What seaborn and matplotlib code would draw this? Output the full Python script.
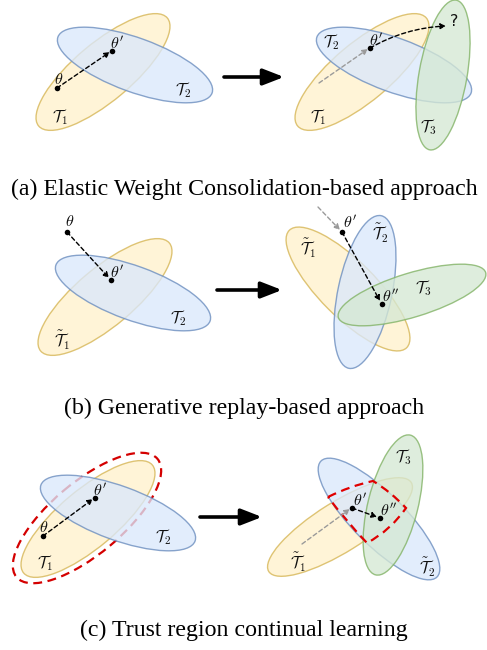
import numpy as np
import pandas as pd
import matplotlib
matplotlib.use("Agg")
import matplotlib.pyplot as plt
from matplotlib.patches import Ellipse, FancyArrowPatch, PathPatch
from matplotlib.path import Path
import seaborn as sns

# task colours (draw.io style): fill, edge
COLORS = {
    "yellow": ("#fff2cc", "#d6b656"),
    "blue": ("#dae8fc", "#6c8ebf"),
    "green": ("#d5e8d4", "#82b366"),
}

# ellipses: colour, centre x, centre y, width, height, angle (deg, ccw on screen)
ell_color = ["yellow", "blue",
             "yellow", "blue", "green",
             "yellow", "blue",
             "yellow", "blue", "green",
             "yellow", "blue",
             "yellow", "blue", "green"]
ell_x = [103, 135, 362, 394, 443, 105, 133, 348, 365, 412, 88, 118, 340, 379, 393]
ell_y = [72, 65, 72, 65, 75, 297, 293, 289, 292, 295, 519, 513, 527, 519, 505]
ell_w = [168, 164, 168, 164, 152, 168, 164, 166, 156, 154, 168, 164, 168, 164, 144]
ell_h = [58, 54, 58, 54, 48, 58, 54, 56, 54, 44, 58, 54, 50, 52, 50]
ell_ang = [40, -20, 40, -20, 80, 40, -20, -45, 78, 17, 40, -20, 32, -45, 76]
# draw order inside a panel (later = on top)
ell_layer = [0, 2, 0, 1, 2, 0, 1, 0, 1, 2, 0, 2, 0, 1, 2]

# trust region (c, left): dashed ellipse
tr_x, tr_y, tr_w, tr_h, tr_ang = 87, 518, 184, 72, 40
# trust region (c, right): corners and edge control points
tr_corners = [(328, 497), (373, 481), (406, 508), (367, 543)]
tr_ctrl = [(350, 486), (391, 492), (391, 530), (346, 521)]

# parameter points
pt_x = [57, 112, 370, 67, 111, 342, 382, 43, 95, 352, 380]
pt_y = [88, 51, 48, 232, 280, 232, 304, 536, 498, 508, 518]

# dashed arrows: start, end, colour, curvature
arr_start = [(57, 88), (319, 83), (370, 48), (67, 232), (318, 207), (342, 232), (43, 536), (302, 544), (352, 508)]
arr_end = [(110, 52), (368, 49), (446, 26), (109, 278), (340, 230), (380, 301), (93, 499), (350, 509), (377, 517)]
arr_col = ["black", "gray", "black", "black", "gray", "black", "black", "gray", "black"]
arr_rad = [0, 0, -0.12, 0, 0, 0, 0, 0, 0]

# big transition arrows (y, x0, x1)
big_y = [77, 290, 517]
big_x0 = [224, 217, 200]
big_x1 = [284, 282, 262]

# labels
lab_text = [r"$\theta$", r"$\theta'$", r"$\mathcal{T}_1$", r"$\mathcal{T}_2$",
            r"$\theta'$", "?", r"$\mathcal{T}_2$", r"$\mathcal{T}_1$", r"$\mathcal{T}_3$",
            r"$\theta$", r"$\theta'$", r"$\tilde{\mathcal{T}}_1$", r"$\mathcal{T}_2$",
            r"$\theta'$", r"$\theta''$", r"$\tilde{\mathcal{T}}_1$", r"$\tilde{\mathcal{T}}_2$", r"$\mathcal{T}_3$",
            r"$\theta$", r"$\theta'$", r"$\mathcal{T}_1$", r"$\mathcal{T}_2$",
            r"$\theta'$", r"$\theta''$", r"$\mathcal{T}_3$", r"$\tilde{\mathcal{T}}_1$", r"$\tilde{\mathcal{T}}_2$"]
lab_x = [59, 117, 60, 183, 376, 454, 331, 318, 428, 70, 117, 62, 178,
         350, 391, 308, 380, 423, 44, 100, 45, 163, 360, 389, 403, 298, 427]
lab_y = [79, 43, 117, 90, 40, 22, 42, 117, 127, 222, 272, 340, 318,
         222, 296, 248, 233, 288, 527, 490, 563, 537, 500, 510, 457, 562, 567]

captions = ["(a) Elastic Weight Consolidation-based approach",
            "(b) Generative replay-based approach",
            "(c) Trust region continual learning"]
cap_y = [195, 414, 636]

sns.set_theme(style="white")
plt.rcParams["mathtext.fontset"] = "cm"

fig = plt.figure(figsize=(4.87, 6.5), dpi=100)
ax = fig.add_axes([0, 0, 1, 1])

for i, c in enumerate(ell_color):
    fc, ec = COLORS[c]
    ax.add_patch(Ellipse((ell_x[i], ell_y[i]), ell_w[i], ell_h[i], angle=-ell_ang[i],
                         facecolor=matplotlib.colors.to_rgba(fc, 0.78),
                         edgecolor=matplotlib.colors.to_rgba(ec, 0.8),
                         lw=1.0, zorder=2 + ell_layer[i] * 0.2))

# dashed trust region ellipse sits under the blue task
ax.add_patch(Ellipse((tr_x, tr_y), tr_w, tr_h, angle=-tr_ang, fill=False,
                     edgecolor="#d40000", lw=1.6, ls=(0, (4, 2.5)), zorder=2.1))

verts = [tr_corners[0]]
codes = [Path.MOVETO]
for k in range(4):
    verts += [tr_ctrl[k], tr_corners[(k + 1) % 4]]
    codes += [Path.CURVE3, Path.CURVE3]
ax.add_patch(PathPatch(Path(verts, codes), fill=False, edgecolor="#e00000",
                       lw=1.6, ls=(0, (4, 2.5)), zorder=4))

for s, e, c, r in zip(arr_start, arr_end, arr_col, arr_rad):
    col = "#9a9a9a" if c == "gray" else "black"
    ax.add_patch(FancyArrowPatch(s, e, arrowstyle="-|>", mutation_scale=8,
                                 connectionstyle=f"arc3,rad={r}", color=col,
                                 lw=1.0, ls=(0, (3, 2)), shrinkA=0, shrinkB=0, zorder=5))

pts = pd.DataFrame({"x": pt_x, "y": pt_y})
sns.scatterplot(data=pts, x="x", y="y", ax=ax, color="black", s=16,
                edgecolor="black", linewidth=0, zorder=6, legend=False)
ax.set_xlim(0, 487)
ax.set_ylim(650, 0)
ax.axis("off")

for y, x0, x1 in zip(big_y, big_x0, big_x1):
    ax.annotate("", xy=(x1, y), xytext=(x0, y),
                arrowprops=dict(arrowstyle="-|>,head_length=0.9,head_width=0.35",
                                color="black", lw=2.6, mutation_scale=14,
                                shrinkA=0, shrinkB=0), zorder=6)

for t, x, y in zip(lab_text, lab_x, lab_y):
    ax.text(x, y, t, fontsize=11.5, ha="center", va="center", color="#111111", zorder=7)

for t, y in zip(captions, cap_y):
    ax.text(244, y, t, fontsize=17.2, family="Liberation Serif",
            ha="center", va="baseline", color="black", zorder=7)

fig.savefig("out.png", dpi=100)
